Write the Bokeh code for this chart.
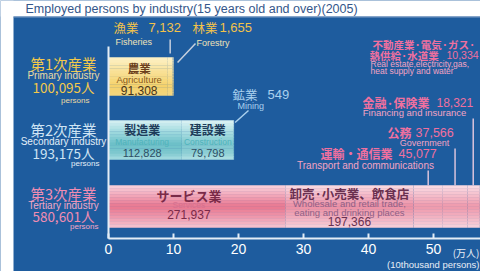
import numpy as np
from bokeh.plotting import figure
from bokeh.models import Range1d, LinearAxis, FixedTicker
from bokeh.core.properties import value
from bokeh.embed import file_html
from bokeh.resources import INLINE

# ---------------- data (persons) ----------------
title_text = "Employed persons by industry(15 years old and over)(2005)"
sector_jp = ["第1次産業", "第2次産業", "第3次産業"]
sector_en = ["Primary industry", "Secondary industry", "Tertiary industry"]
sector_totals = [100095, 193175, 580601]

primary_jp = ["農業", "漁業", "林業"]
primary_en = ["Agriculture", "Fisheries", "Forestry"]
primary_vals = [91308, 7132, 1655]

secondary_jp = ["製造業", "建設業", "鉱業"]
secondary_en = ["Manufacturing", "Construction", "Mining"]
secondary_vals = [112828, 79798, 549]

tertiary_jp = ["サービス業", "卸売·小売業、飲食店", "運輸・通信業", "公務", "金融·保険業",
               "不動産業·電気·ガス·", "熱供給·水道業"]
tertiary_en = ["Services", "Wholesale and retail trade,", "eating and drinking places",
               "Transport and communications", "Government", "Financing and insurance",
               "Real estate,electricity,gas,", "heat supply and water"]
tertiary_vals = [271937, 197366, 45077, 37566, 18321, 10334]

x_ticks = [0, 10, 20, 30, 40, 50]
unit_jp = "(万人)"
unit_en = "(10thousand persons)"

# ---------------- layout ----------------
SCALE = 10000.0          # persons -> 万人
PX = 6.5                 # pixels per 万人
X0 = 108                 # page x of value 0
W, H = 480, 271
def sx(px):              # page x -> data x
    return (px - X0) / PX

JP = "Noto Sans CJK JP"
EN = "Liberation Sans"
BLUE = "#1e5c9e"

p = figure(width=W, height=H, output_backend="svg", toolbar_location=None,
           x_range=Range1d(sx(0), sx(W)), y_range=Range1d(H, 0),
           x_axis_location=None, y_axis_location=None,
           min_border=0, background_fill_color=BLUE, border_fill_color=BLUE,
           outline_line_color=None)
p.xgrid.visible = False
p.ygrid.visible = False

# white page strips (top with title, left)
p.quad(left=sx(0), right=sx(W), top=0, bottom=16, fill_color="white", line_color=None)
p.quad(left=sx(0), right=sx(13), top=0, bottom=H, fill_color="white", line_color=None)
p.segment(x0=sx(13), y0=16.5, x1=sx(W), y1=16.5, line_color="#7d9cc4", line_width=1)

def T(x, y, s, size, color, align="left", font=EN, style="normal"):
    p.text(x=[x], y=[y], text=[s], text_font=value(font), text_font_size=f"{size}px",
           text_color=color, text_align=align, text_baseline="middle", text_font_style=style)

T(sx(25), 8.5, title_text, 12.5, "#34568a")

# ---------------- gradient bars ----------------
def h2r(c):
    c = c.lstrip("#")
    return np.array([int(c[i:i + 2], 16) for i in (0, 2, 4)], dtype=float)

def r2h(a):
    a = np.clip(np.round(a), 0, 255).astype(int)
    return "#%02x%02x%02x" % tuple(a)

def interp(stops, t):
    for (t0, c0), (t1, c1) in zip(stops[:-1], stops[1:]):
        if t0 <= t <= t1:
            f = (t - t0) / (t1 - t0) if t1 > t0 else 0
            return h2r(c0) * (1 - f) + h2r(c1) * f
    return h2r(stops[-1][1])

def draw_bar(vals, yc, h, stops, lights, n=14):
    v = np.array(vals, dtype=float) / SCALE
    right = np.cumsum(v)
    left = right - v
    for i in range(n):
        t = (i + 0.5) / n
        base = interp(stops, t)
        cols = [r2h(base * (1 - l) + 255 * l) for l in lights]
        yb = yc - h / 2 + (i + 0.5) * h / n
        p.hbar(y=yb, height=h / n + 0.4, left=left, right=right,
               fill_color=cols, line_color=None)
    return left, right

ROW_Y = [76, 139.5, 206]
ROW_H = [38, 39, 42]

pl, pr = draw_bar(primary_vals, ROW_Y[0], ROW_H[0],
                  [(0, "#fdf2c8"), (0.35, "#f9e29a"), (0.75, "#f5d26c"), (1, "#f3d57e")],
                  [0, 0.05, 0.1])
sl, sr = draw_bar(secondary_vals, ROW_Y[1], ROW_H[1],
                  [(0, "#d8f1f3"), (0.3, "#9fd9de"), (0.6, "#6cc0c8"), (0.85, "#7fc8cf"), (1, "#a8dde1")],
                  [0, 0.12, 0.1])
tl, tr = draw_bar(tertiary_vals, ROW_Y[2], ROW_H[2],
                  [(0, "#f9d3dc"), (0.3, "#f09cb0"), (0.5, "#e8768f"), (0.75, "#ee98ac"), (1, "#f6c6d1")],
                  [0, 0.18, 0.25, 0.25, 0.25, 0.25])

# vertical baseline line at 0
p.segment(x0=0, y0=46, x1=0, y1=238, line_color="#e4edf6", line_width=2)

# ---------------- in-bar labels ----------------
def mid(l, r, i):
    return (l[i] + r[i]) / 2

c = mid(pl, pr, 0) + 1 / PX
T(c, 67, primary_jp[0], 11.5, "#6b3f1c", "center", JP, "bold")
T(c, 79, primary_en[0], 9.5, "#8a5a20", "center")
T(c, 89.5, f"{primary_vals[0]:,}", 12, "#4a3418", "center")

c = mid(sl, sr, 0) - 3 / PX
T(c, 129, secondary_jp[0], 12, "#1e3c5a", "center", JP, "bold")
T(c, 141, secondary_en[0], 8.5, "#4fb3bb", "center")
T(c, 152, f"{secondary_vals[0]:,}", 11, "#2d4d63", "center")
c = mid(sl, sr, 1)
T(c, 129, secondary_jp[1], 12, "#1e3c5a", "center", JP, "bold")
T(c, 141, secondary_en[1], 8.5, "#4fb3bb", "center")
T(c, 152, f"{secondary_vals[1]:,}", 11, "#2d4d63", "center")

c = mid(tl, tr, 0) - 8 / PX
T(c, 195, tertiary_jp[0], 13, "#7a2a48", "center", JP, "bold")
T(c, 204.5, tertiary_en[0], 8.5, "#d7708f", "center")
T(c, 214, f"{tertiary_vals[0]:,}", 12, "#7a2a48", "center")
c = mid(tl, tr, 1)
T(c, 193, tertiary_jp[1], 12.5, "#6a3050", "center", JP, "bold")
T(c, 203, tertiary_en[1], 9.5, "#8f5f86", "center")
T(c, 211.5, tertiary_en[2], 9.5, "#8f5f86", "center")
T(c, 221, f"{tertiary_vals[1]:,}", 12, "#6a3050", "center")

# ---------------- left sector labels ----------------
sec_col = [("#f3c94a", "#eadba4"), ("#cfe4f4", "#e2eef8"), ("#f08cb2", "#f2a8c6")]
sec_y = [(63, 75, 86, 100), (129, 141, 152, 162.5), (193, 205, 215.5, 225.5)]
sec_pr = [89, 99, 98]
for i in range(3):
    cj, ce = sec_col[i]
    y1, y2, y3, y4 = sec_y[i]
    T(sx(63), y1, sector_jp[i], 14.5, cj, "center", JP)
    T(sx(63), y2, sector_en[i], 10, ce, "center")
    T(sx(63), y3, f"{sector_totals[i]:,}人", 13.5, cj, "center", JP)
    T(sx(sec_pr[i]), y4, "persons", 8, ce, "right")

# ---------------- call-out annotations ----------------
PK, PK2, PKL = "#f0709f", "#f3a3c3", "#d9c3dc"
YEL, YEL2, LINE = "#f2c24a", "#efe3b8", "#c6d0df"
MIN = "#a9d0ee"

# fisheries / forestry
fx = mid(pl, pr, 1)
p.segment(x0=fx, y0=39, x1=fx, y1=53, line_color=LINE, line_width=1.5)
p.segment(x0=pr[2] + 4 / PX, y0=62, x1=sx(195), y1=43, line_color=LINE, line_width=1.5)
T(sx(113), 27, primary_jp[1], 12.5, YEL, "left", JP)
T(sx(148), 27, f"{primary_vals[1]:,}", 13, YEL)
T(sx(115), 41, primary_en[1], 9, YEL2)
T(sx(192), 27, primary_jp[2], 12.5, YEL, "left", JP)
T(sx(219), 27, f"{primary_vals[2]:,}", 13, YEL)
T(sx(196), 42, primary_en[2], 9, YEL2)

# mining
p.segment(x0=sr[2] + 1 / PX, y0=122, x1=sx(248), y1=110, line_color=MIN, line_width=1.5)
T(sx(232), 94, secondary_jp[2], 12.5, MIN, "left", JP)
T(sx(267), 94, f"{secondary_vals[2]:,}", 13, MIN)
T(sx(237), 105, secondary_en[2], 9, MIN)

# tertiary call-outs
for i, ytop in ((2, 170), (3, 148), (4, 118)):
    xm = mid(tl, tr, i)
    p.segment(x0=xm, y0=ytop, x1=xm, y1=185, line_color=PKL, line_width=1.5)

T(sx(320), 153, tertiary_jp[2], 12, PK, "left", JP, "bold")
T(sx(398), 152.5, f"{tertiary_vals[2]:,}", 12.5, PK)
T(sx(365), 165, tertiary_en[3], 10, PK2, "center")

T(sx(387), 132, tertiary_jp[3], 12, PK, "left", JP, "bold")
T(sx(415), 131.5, f"{tertiary_vals[3]:,}", 12.5, PK)
T(sx(424), 142, tertiary_en[4], 9, PK2, "center")

T(sx(362), 102, tertiary_jp[4], 12, PK, "left", JP, "bold")
T(sx(436), 101.5, f"{tertiary_vals[4]:,}", 12, PK)
T(sx(414), 112, tertiary_en[5], 9.5, PK2, "center")

T(sx(372), 44, tertiary_jp[5], 10.5, PK, "left", JP, "bold")
T(sx(369), 54.5, tertiary_jp[6], 10.5, PK, "left", JP, "bold")
T(sx(446), 54.5, f"{tertiary_vals[5]:,}", 10.5, PK)
T(sx(370), 63, tertiary_en[6], 8.5, PK2)
T(sx(370), 70, tertiary_en[7], 8.5, PK2)

# units (right-aligned so they stay inside the page)
T(sx(479), 252, unit_jp, 10, "#e8eef6", "right", JP)
T(sx(479), 264, unit_en, 9.5, "#e8eef6", "right")

# ---------------- axis ----------------
ax = LinearAxis(ticker=FixedTicker(ticks=x_ticks), bounds=(0, sx(W)), fixed_location=238,
                axis_line_color="#e4edf6", axis_line_width=2,
                major_tick_in=5, major_tick_out=0,
                major_tick_line_color="#e4edf6", major_tick_line_width=2,
                minor_tick_line_color=None,
                major_label_text_color="white", major_label_text_font=EN,
                major_label_text_font_size="14px", major_label_standoff=5)
p.add_layout(ax, "below")

open("out.html", "w").write(file_html(p, INLINE))
